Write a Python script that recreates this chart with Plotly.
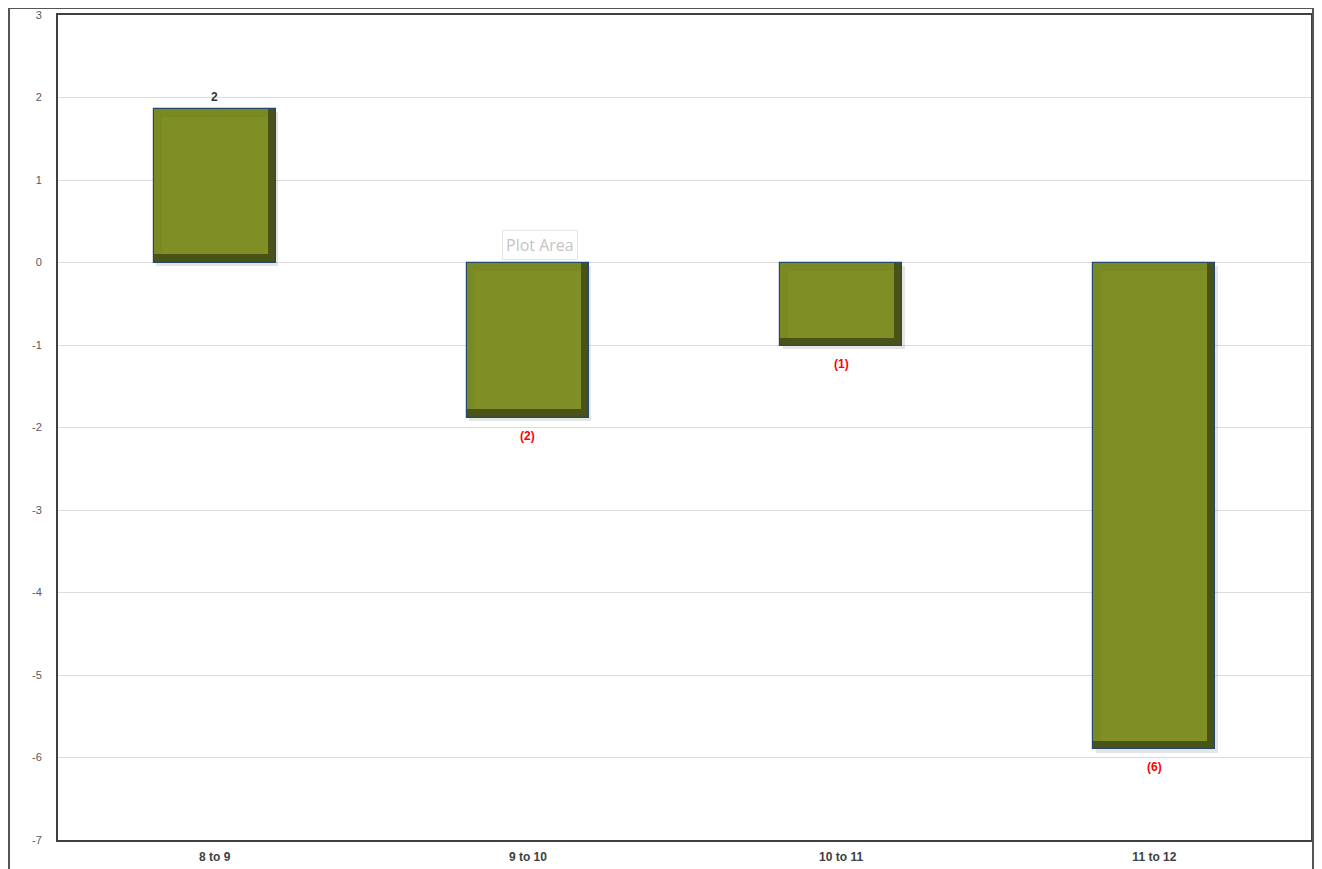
import plotly.graph_objects as go

categories = ["8 to 9", "9 to 10", "10 to 11", "11 to 12"]
values = [1.86, -1.88, -1.01, -5.9]
labels = ["2", "(2)", "(1)", "(6)"]
y_ticks = [3, 2, 1, 0, -1, -2, -3, -4, -5, -6, -7]
y_ticktext = ["3", "2", "1", "0", "-1", "-2", "-3", "-4", "-5", "-6", "-7"]

W = 0.39      # bar width in category units
DX = 0.026    # bevel width (x, category units)
DY = 0.1      # bevel height (y, data units)

lo = [min(0, v) for v in values]
hi = [max(0, v) for v in values]
span = [h - l for h, l in zip(hi, lo)]

FONT = "Liberation Sans Narrow, Arial Narrow, Liberation Sans, Arial"

fig = go.Figure()

# soft shadow
fig.add_trace(go.Bar(
    x=categories, y=span, base=[l - 0.04 for l in lo],
    width=W, offset=-W / 2 + 0.008,
    marker=dict(color="rgba(0,0,0,0.10)", line=dict(width=0)),
    hoverinfo="skip", showlegend=False))
# dark bevel (right/bottom) with border
fig.add_trace(go.Bar(
    x=categories, y=span, base=lo, width=W, offset=-W / 2,
    marker=dict(color="#4A5317", line=dict(color="#24486E", width=1.2)),
    hoverinfo="skip", showlegend=False))
# top/left bevel
fig.add_trace(go.Bar(
    x=categories, y=[s - DY for s in span], base=[l + DY for l in lo],
    width=W - DX, offset=-W / 2,
    marker=dict(color="#7A8A23", line=dict(width=0)),
    hoverinfo="skip", showlegend=False))
# face
fig.add_trace(go.Bar(
    x=categories, y=[s - 2 * DY for s in span], base=[l + DY for l in lo],
    width=W - 2 * DX, offset=-W / 2 + DX,
    marker=dict(color="#7F8F26", line=dict(width=0)),
    hoverinfo="skip", showlegend=False))

annotations = []
for c, v, t in zip(categories, values, labels):
    pos = v >= 0
    annotations.append(dict(
        x=c, y=v, xref="x", yref="y", text=t, showarrow=False,
        yanchor="bottom" if pos else "top", yshift=3 if pos else -9,
        font=dict(family=FONT, size=12, color="#333333" if pos else "#FF0000",
                  weight="bold")))

annotations.append(dict(
    text="Plot Area", xref="paper", yref="paper", x=0.385, y=0.721,
    xanchor="center", yanchor="middle",
    showarrow=False,
    font=dict(family="Open Sans, Liberation Sans", size=16, color="#C4C4C4"),
    bgcolor="white", bordercolor="#E6E6E6", borderwidth=1, borderpad=3))

fig.update_layout(
    width=1306, height=861,
    margin=dict(l=50, r=3, t=7, b=29, autoexpand=False),
    paper_bgcolor="white", plot_bgcolor="white",
    barmode="overlay", bargap=0,
    font=dict(family=FONT),
    xaxis=dict(showgrid=False, showline=True, mirror=True, linecolor="#404040",
               linewidth=2, ticks="", range=[-0.5, 3.5], automargin=False,
               tickfont=dict(size=12, color="#404040", weight="bold"),
               ticklabelstandoff=5),
    yaxis=dict(range=[-7, 3], tickvals=y_ticks, ticktext=y_ticktext,
               showgrid=True, gridcolor="#DCDCDC", automargin=False,
               gridwidth=1, zeroline=False, showline=True, mirror=True,
               linecolor="#404040", linewidth=2, ticks="",
               tickfont=dict(size=11, color="#595959"),
               ticklabelstandoff=12),
    shapes=[dict(type="rect", xref="paper", yref="paper",
                 x0=-49 / 1253, x1=1255 / 1253, y0=-0.2, y1=1 + 7 / 825,
                 line=dict(color="#555555", width=2), layer="above")],
    annotations=annotations,
)

fig.write_html("out.html")
